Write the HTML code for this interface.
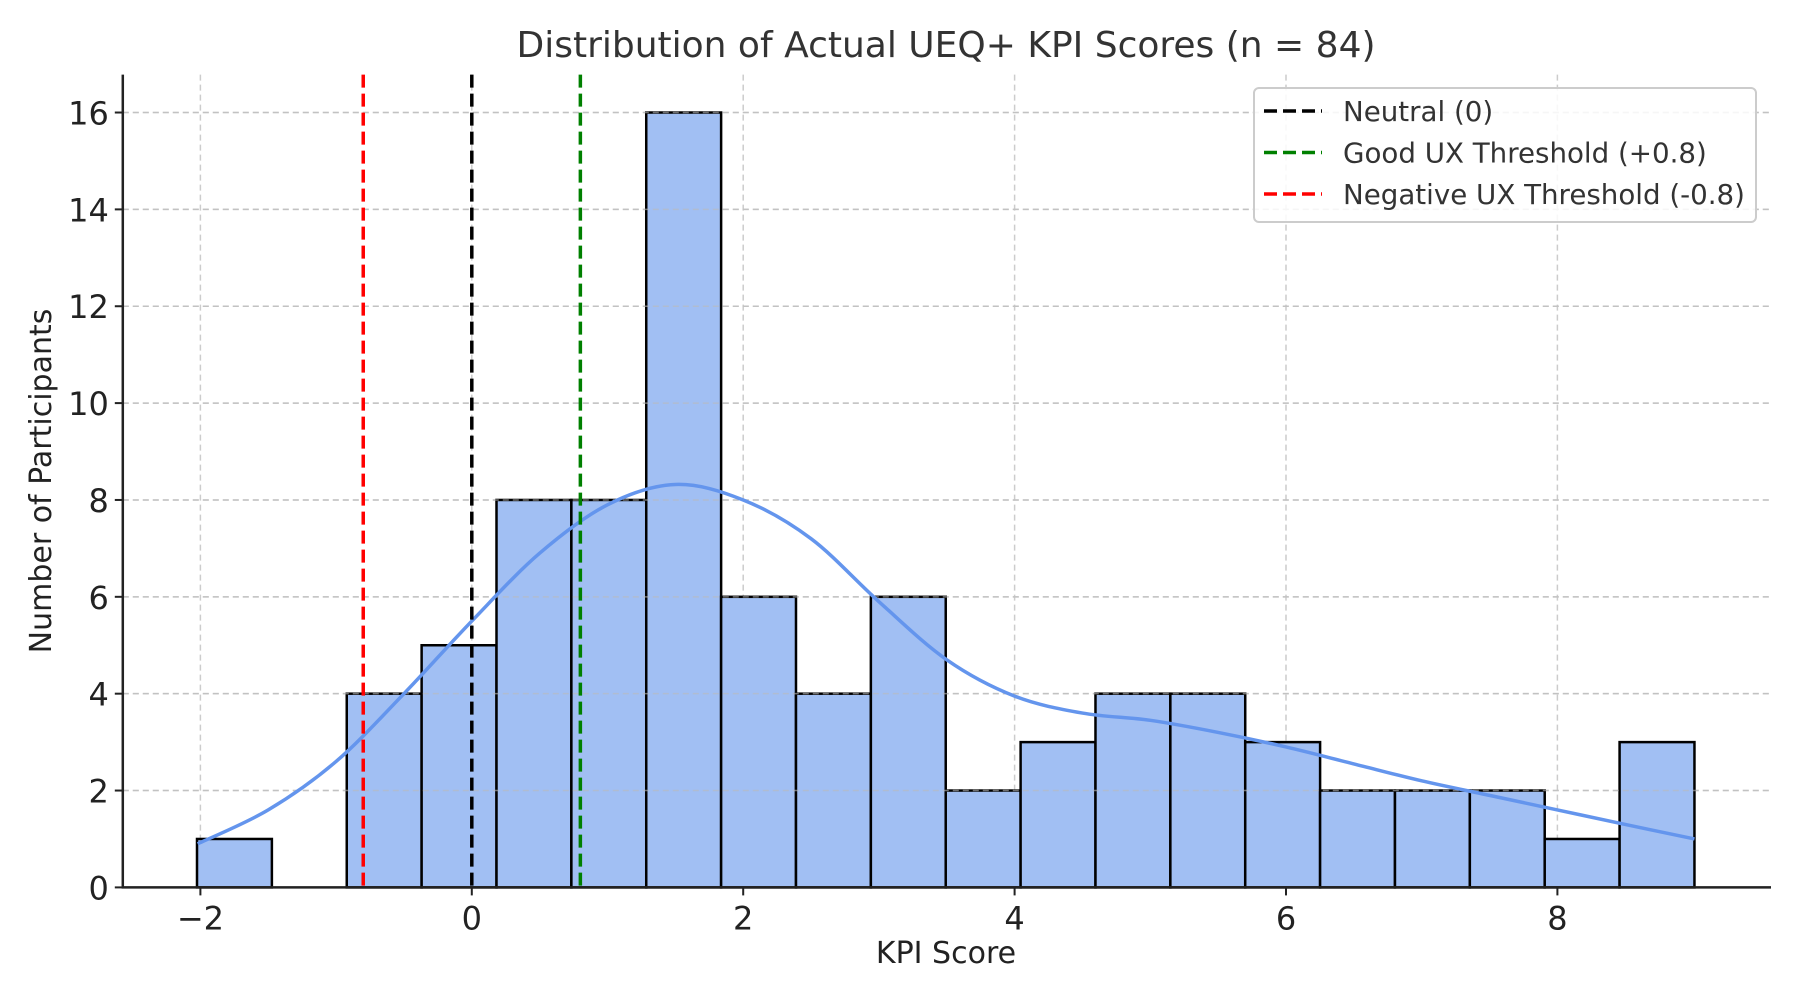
<!DOCTYPE html>
<html><head><meta charset="utf-8"><style>
html,body{margin:0;padding:0;background:#fff;}
svg{display:block;font-family:"DejaVu Sans","Liberation Sans",sans-serif;}
</style></head><body>
<svg id="chart" width="1800" height="1000" viewBox="0 0 1800 1000">
<g id="grid"></g>
<g id="bars"></g>
<g id="grid2"></g>
<g id="kde"></g>
<g id="refs"></g>
<g id="axes"></g>
<text x="946" y="57" text-anchor="middle" font-size="36" fill="#333">Distribution of Actual UEQ+ KPI Scores (n = 84)</text>
<text x="946" y="963" text-anchor="middle" font-size="30" fill="#222">KPI Score</text>
<text transform="translate(51,481) rotate(-90)" text-anchor="middle" font-size="30" fill="#222">Number of Participants</text>
<g id="legend">
<rect x="1254" y="88" width="502" height="134" rx="5" fill="#fff" fill-opacity="0.85" stroke="#ccc" stroke-width="2"/>
</g>
</svg>
<script>
const binStart = -2.025;
const binEnd = 9.01;
const counts = [1,0,4,5,8,8,16,6,4,6,2,3,4,4,3,2,2,2,1,3];
const kdeX = [-2.02,-1.5,-1,-0.5,0,0.5,1,1.5,2,2.5,3,3.5,4,4.5,5,5.5,6,6.5,7,7.5,8,8.5,9.01];
const kdeY = [0.9,1.6,2.6,4.0,5.5,6.9,7.9,8.32,8.0,7.2,5.9,4.7,3.95,3.6,3.45,3.2,2.9,2.55,2.2,1.9,1.6,1.3,1.0];
const xTicks = [-2,0,2,4,6,8];
const yTicks = [0,2,4,6,8,10,12,14,16];
const refValues = [0,0.8,-0.8];
const refColors = ['#000','#008000','#ff0000'];
const refLabels = ['Neutral (0)','Good UX Threshold (+0.8)','Negative UX Threshold (-0.8)'];

const NS='http://www.w3.org/2000/svg';
const L=122.8,R=1771,T=74.6,B=887.4;
function xs(v){return 471.8+v*135.7;}
function ys(v){return B-v*48.43;}
function mk(tag,attrs,parent){const e=document.createElementNS(NS,tag);for(const k in attrs)e.setAttribute(k,attrs[k]);document.getElementById(parent).appendChild(e);return e;}

xTicks.forEach(t=>{const l=mk('line',{x1:xs(t),x2:xs(t),y1:T,y2:B,stroke:'#ccc','stroke-width':1.5,'stroke-dasharray':'6,4'},'grid');
  
  });
yTicks.forEach(t=>{const l=mk('line',{x1:L,x2:R,y1:ys(t),y2:ys(t),stroke:'#ccc','stroke-width':1.5,'stroke-dasharray':'6,4'},'grid');
  
  });

const w=(binEnd-binStart)/counts.length;
counts.forEach((c,i)=>{
  if(c<=0)return;
  const x0=xs(binStart+i*w),x1=xs(binStart+(i+1)*w);
  const r=mk('rect',{x:x0,y:ys(c),width:x1-x0,height:B-ys(c),fill:'#a1bff3',stroke:'#000','stroke-width':2.5},'bars');
  
  
});
yTicks.forEach(t=>{const l=mk('line',{x1:L,x2:R,y1:ys(t),y2:ys(t),stroke:'#bbb','stroke-opacity':0.6,'stroke-width':1.5,'stroke-dasharray':'6,4'},'grid2');
  
  });

function smooth(){
  const p=kdeX.map((x,i)=>[xs(x),ys(kdeY[i])]);let s='M'+p[0];
  for(let i=0;i<p.length-1;i++){const p0=p[Math.max(i-1,0)],p1=p[i],p2=p[i+1],p3=p[Math.min(i+2,p.length-1)];
    const c1=[p1[0]+(p2[0]-p0[0])/6,p1[1]+(p2[1]-p0[1])/6],c2=[p2[0]-(p3[0]-p1[0])/6,p2[1]-(p3[1]-p1[1])/6];
    s+=' C'+c1+' '+c2+' '+p2;}
  return s;}
const kp=mk('path',{d:smooth(),fill:'none',stroke:'#6495ed','stroke-width':3.5},'kde');



refValues.forEach((v,i)=>{
  const l=mk('line',{x1:xs(v),x2:xs(v),y1:T,y2:B,stroke:refColors[i],'stroke-width':3.5,'stroke-dasharray':'13,6'},'refs');
  
  
  const ly=111+i*41.5;
  const ll=mk('line',{x1:1264,x2:1322,y1:ly,y2:ly,stroke:refColors[i],'stroke-width':3.5,'stroke-dasharray':'13,6'},'legend');
  
  
  const lt=mk('text',{x:1343,y:ly+10,'font-size':27.7,fill:'#333'},'legend');
  lt.textContent=refLabels[i];
  
  
});

const ax=mk('path',{d:`M${L},${T} L${L},${B} L${R},${B}`,fill:'none',stroke:'#222','stroke-width':2.5},'axes');


xTicks.forEach(t=>{
  const tk=mk('line',{x1:xs(t),x2:xs(t),y1:B,y2:B+8,stroke:'#222','stroke-width':2},'axes');
  
  
  const tx=mk('text',{x:xs(t),y:B+42,'text-anchor':'middle','font-size':32,fill:'#222'},'axes');
  tx.textContent=t<0?'\u2212'+Math.abs(t):String(t);
  
  
});
yTicks.forEach(t=>{
  const tk=mk('line',{x1:L-8,x2:L,y1:ys(t),y2:ys(t),stroke:'#222','stroke-width':2},'axes');
  
  
  const tx=mk('text',{x:L-14,y:ys(t)+12,'text-anchor':'end','font-size':32,fill:'#222'},'axes');
  tx.textContent=String(t);
  
  
});
</script>
</body></html>
